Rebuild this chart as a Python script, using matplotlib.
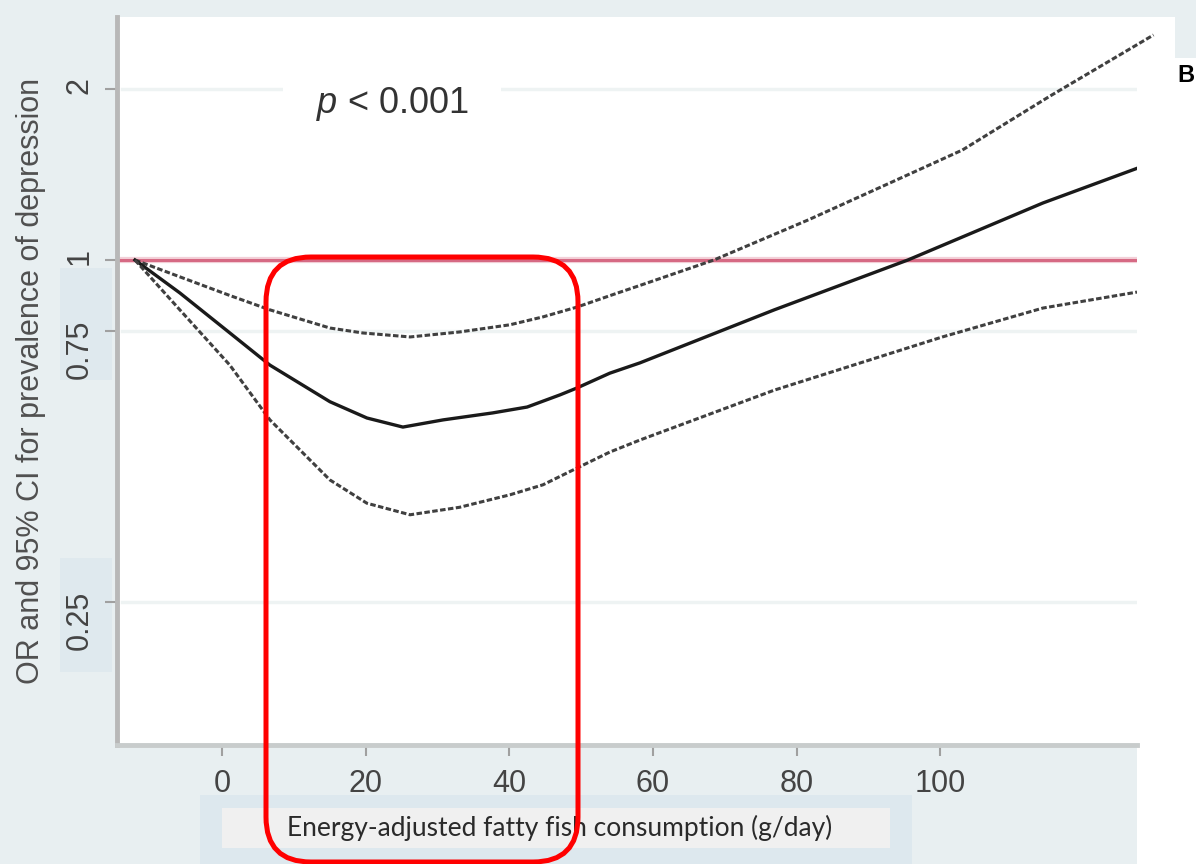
import matplotlib
matplotlib.use("Agg")
import matplotlib.pyplot as plt
from matplotlib.patches import Rectangle, FancyBboxPatch

plt.rcParams['font.family'] = ['Liberation Sans', 'DejaVu Sans']
plt.rcParams['mathtext.fontset'] = 'custom'
plt.rcParams['mathtext.it'] = 'Liberation Sans:italic'
plt.rcParams['mathtext.rm'] = 'Liberation Sans'

# fatty fish intake (g/day) and odds ratio curves (upper CI, OR, lower CI)
x_upper = [-12.1, -5.85, 1.11, 6.69, 15.04, 19.6, 26.2, 33.1, 40.1, 44.7, 49.4, 55.0, 58.2,
           68.5, 81.6, 93.3, 103.1, 115.3, 129.7]
or_upper = [1.0, 0.934, 0.866, 0.817, 0.759, 0.744, 0.732, 0.747, 0.769, 0.794, 0.826, 0.874, 0.902,
            1.0, 1.176, 1.372, 1.562, 1.944, 2.49]

x_mid = [-12.1, -5.85, 1.11, 6.69, 15.04, 20.2, 25.2, 30.8, 37.7, 42.5, 47.1, 49.4, 54.0, 58.2,
         76.9, 95.5, 114.3, 127.4]
or_mid = [1.0, 0.875, 0.744, 0.653, 0.563, 0.527, 0.508, 0.523, 0.538, 0.551, 0.579, 0.595, 0.632, 0.659,
          0.817, 1.0, 1.26, 1.45]

x_lower = [-12.1, -5.85, 1.11, 6.69, 15.04, 20.2, 26.2, 33.1, 40.1, 44.7, 49.4, 54.0, 58.2,
           76.9, 100.3, 114.3, 127.4]
or_lower = [1.0, 0.817, 0.653, 0.523, 0.410, 0.373, 0.356, 0.367, 0.386, 0.402, 0.430, 0.459, 0.482,
            0.590, 0.732, 0.823, 0.878]

yticks = [0.25, 0.75, 1, 2]
ytick_labels = ['0.25', '0.75', '1', '2']
xticks = [0, 20, 40, 60, 80, 100]

W, H = 1196, 864
fig = plt.figure(figsize=(W / 100, H / 100), dpi=100, facecolor='#e8eff1')


def box(x0, y0, x1, y1, **kw):
    # pixel box (origin top-left) -> inches on the figure
    return Rectangle((x0 / 100, (H - y1) / 100), (x1 - x0) / 100, (y1 - y0) / 100,
                     transform=fig.dpi_scale_trans, **kw)


# background panels
fig.add_artist(box(1137, 58, W, H, facecolor='white', edgecolor='none', zorder=-2))
fig.add_artist(box(1137, 17, 1175, 58, facecolor='white', edgecolor='none', zorder=-2))
fig.add_artist(box(60, 268, 112, 380, facecolor='#dfe9ee', edgecolor='none', zorder=-2))
fig.add_artist(box(60, 558, 112, 672, facecolor='#dfe9ee', edgecolor='none', zorder=-2))
fig.add_artist(box(200, 795, 912, H, facecolor='#dde8ee', edgecolor='none', zorder=-2))
fig.add_artist(box(222, 808, 890, 848, facecolor='#f0f0f0', edgecolor='none', zorder=-1))

left, right, top, bottom = 117, 1137, 17, 745
ax = fig.add_axes([left / W, (H - bottom) / H, (right - left) / W, (bottom - top) / H])
ax.set_facecolor('white')
ax.set_yscale('log')
ax.set_xlim(-14.6, 127.4)
ax.set_ylim(0.140, 2.678)

for g in [0.25, 0.75, 2]:
    ax.axhline(g, xmin=0.005, color='#eef3f3', lw=2.5, zorder=1)

ax.axhline(1, color='#f3d0d8', lw=4.5, zorder=2)
ax.axhline(1, color='#d66a84', lw=2.2, zorder=2)

ax.plot(x_upper, or_upper, color='#404040', lw=2.2, dashes=(1.8, 0.8), clip_on=False, zorder=3)
ax.plot(x_mid, or_mid, color='#1a1a1a', lw=2.4, zorder=3)
ax.plot(x_lower, or_lower, color='#404040', lw=2.2, dashes=(1.8, 0.8), zorder=3)

ax.set_yticks(yticks)
ax.set_yticklabels(ytick_labels)
ax.yaxis.set_minor_locator(matplotlib.ticker.NullLocator())
ax.set_xticks(xticks)

for s in ['top', 'right']:
    ax.spines[s].set_visible(False)
ax.spines['left'].set_color('#b8b8b8')
ax.spines['left'].set_linewidth(3.5)
ax.spines['bottom'].set_color('#c8cccc')
ax.spines['bottom'].set_linewidth(3.5)

ax.tick_params(axis='y', length=9, width=1.5, color='#a0a0a0', labelsize=22,
               labelcolor='#444444', labelrotation=90, pad=7)
ax.tick_params(axis='x', length=8, width=1.5, color='#a0a0a0', labelsize=22,
               labelcolor='#444444', pad=9)

ax.set_ylabel('OR and 95% CI for prevalence of depression', fontsize=22, color='#505050')
ax.yaxis.set_label_coords((46 - left) / (right - left), 0.5)

ax.text(23.7, 1.88, '$p$ < 0.001', fontsize=26, color='#333333', ha='center', va='center',
        zorder=4, bbox=dict(facecolor='white', edgecolor='none', boxstyle='square,pad=0.9'))

fig.text(560 / W, (H - 828) / H, 'Energy-adjusted fatty fish consumption (g/day)',
         family=['Lato', 'DejaVu Sans'], fontsize=19, color='#2a2a2a', ha='center', va='center')

fig.text(1177 / W, (H - 76) / H, 'B', fontsize=17, fontweight='bold', color='black',
         ha='left', va='center')

# highlight box around the 10-50 g/day range
fig.add_artist(FancyBboxPatch((2.66, (H - 862) / 100), 3.12, (862 - 257) / 100,
                              boxstyle='round,pad=0,rounding_size=0.45',
                              transform=fig.dpi_scale_trans, facecolor='none',
                              edgecolor='#ff0000', lw=3.6, zorder=10))

fig.savefig('out.png', dpi=100, facecolor=fig.get_facecolor())
